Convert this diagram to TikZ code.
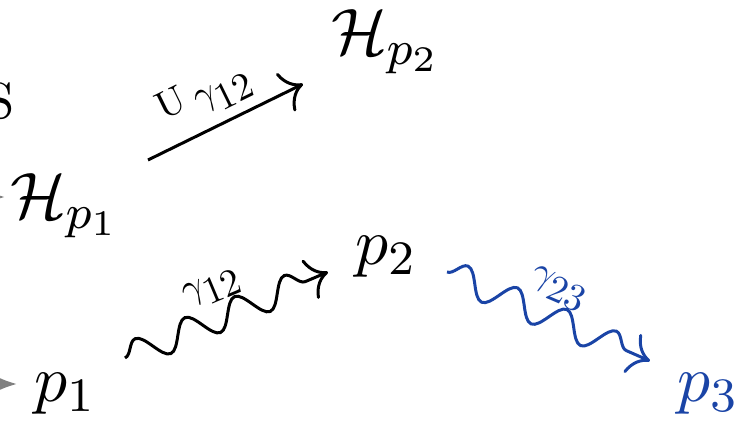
\documentclass[tikz,border=0pt]{standalone}
\usetikzlibrary{decorations.pathmorphing,arrows.meta}
\definecolor{myblue}{RGB}{26,68,166}
\definecolor{mygray}{RGB}{128,128,128}
\begin{document}
\begin{tikzpicture}[x=0.16667pt,y=-0.16667pt,
  conn/.style={line width=0.5pt,-{To[scale=1.25]}},
  wave/.style={line width=0.5pt,-{To[scale=1.25]},decorate,decoration={snake,segment length=9pt,amplitude=2.3pt,post length=1.5pt}},
  grayarrow/.style={draw=mygray,line width=0.5pt,-{Latex[length=4pt,width=3.2pt]},fill=mygray},
  lbl/.style={font=\normalsize,inner sep=0pt,scale=0.64},
  mainnode/.style={inner sep=0pt,anchor=base,font=\fontsize{10.95}{13}\selectfont}]
\useasboundingbox (0,0) rectangle (750,425);
\clip (0,0) rectangle (750,425);
% nodes
\node[mainnode, anchor=base east, font=\fontsize{8.5}{10}\selectfont] (S) at (16,119) {S};
\node[mainnode] (Hp1) at (65,219) {$\mathcal{H}_{p_1}$};
\node[mainnode] (Hp2) at (386,55) {$\mathcal{H}_{p_2}$};
\node[mainnode] (p1) at (65,402) {$p_1$};
\node[mainnode] (p2) at (386,265) {$p_2$};
\node[mainnode, text=myblue] (p3) at (708,402) {$p_3$};
% connector end points
\coordinate (u1) at (148,160);
\coordinate (u2) at (303,84);
\coordinate (w1s) at (125,358);
\coordinate (w1e) at (328,272);
\coordinate (w2s) at (447,272);
\coordinate (w2e) at (650,361);
\coordinate (g1s) at (-60,197);
\coordinate (g1e) at (5,197);
\coordinate (g2s) at (-60,384);
\coordinate (g2e) at (17,384);
% connectors
\draw[conn] (u1) -- (u2);
\draw[wave] (w1s) -- (w1e);
\draw[wave, myblue] (w2s) -- (w2e);
\draw[grayarrow] (g1s) -- (g1e);
\draw[grayarrow] (g2s) -- (g2e);
% labels
\node[lbl, rotate=26.1] (lu) at (206,95) {$\mathrm{U}_{\;\textstyle\gamma_{\textstyle 12}}$};
\node[lbl, rotate=22.8] (l12) at (213,289) {$\gamma_{\textstyle 12}$};
\node[lbl, rotate=-23.4, text=myblue] (l23) at (559,289) {$\gamma_{\textstyle 23}$};
\end{tikzpicture}
\end{document}
